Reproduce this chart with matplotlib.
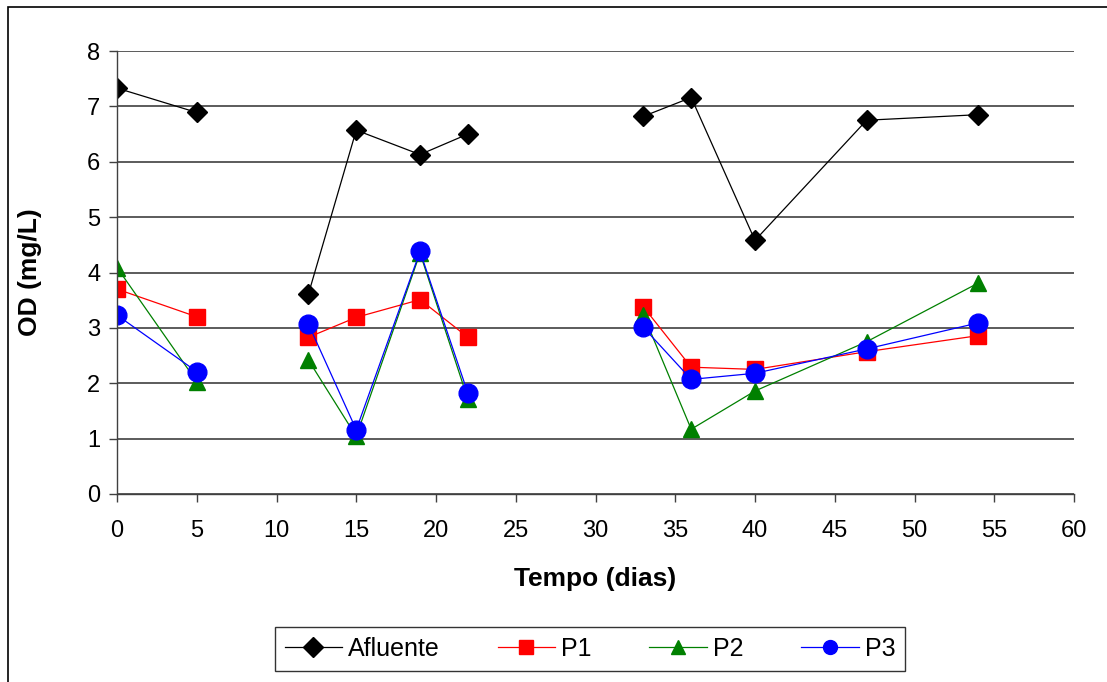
import numpy as np
import matplotlib
matplotlib.use('Agg')
import matplotlib.pyplot as plt
from matplotlib.patches import Rectangle

plt.rcParams['font.family'] = ['Liberation Sans', 'DejaVu Sans']

# dias de coleta (nan = intervalo sem coleta, quebra a linha)
dias = [0, 5, 8, 12, 15, 19, 22, 26, 33, 36, 40, 47, 54]
nan = np.nan
afluente = [7.33, 6.89, nan, 3.61, 6.57, 6.13, 6.50, nan, 6.82, 7.16, 4.58, 6.75, 6.85]
p1 = [3.70, 3.20, nan, 2.83, 3.19, 3.51, 2.83, nan, 3.38, 2.29, 2.25, 2.57, 2.86]
p2 = [4.09, 2.03, nan, 2.42, 1.04, 4.35, 1.71, nan, 3.24, 1.17, 1.86, 2.75, 3.81]
p3 = [3.23, 2.21, nan, 3.07, 1.16, 4.38, 1.82, nan, 3.01, 2.07, 2.18, 2.62, 3.09]

fig = plt.figure(figsize=(11.07, 6.82), dpi=100)
ax = fig.add_axes([117/1107, 1-494/682, (1074-117)/1107, (494-51)/682])

ax.plot(dias, afluente, color='black', lw=0.9, marker='D', ms=10.5, label='Afluente')
ax.plot(dias, p1, color='#ff0000', lw=0.9, marker='s', ms=11, label='P1')
ax.plot(dias, p2, color='#008000', lw=0.9, marker='^', ms=12, label='P2')
ax.plot(dias, p3, color='#0000ff', lw=0.9, marker='o', ms=13.5, label='P3')

ax.set_xlim(0, 60)
ax.set_ylim(0, 8)
ax.set_xticks(range(0, 61, 5))
ax.set_yticks(range(0, 9))
ax.yaxis.grid(True, color='#404040', lw=1.2)
ax.set_axisbelow(True)
for s in ['top', 'right']:
    ax.spines[s].set_visible(False)
for s in ['left', 'bottom']:
    ax.spines[s].set_color('#404040')
    ax.spines[s].set_linewidth(1.0)
ax.tick_params(direction='out', length=6, width=1, color='#404040', labelsize=17)
ax.tick_params(axis='x', pad=13)
ax.tick_params(axis='y', pad=6)
ax.set_xlabel('Tempo (dias)', fontsize=19, fontweight='bold')
ax.set_ylabel('OD (mg/L)', fontsize=19, fontweight='bold')
ax.xaxis.set_label_coords(0.5, -0.165)
ax.yaxis.set_label_coords(-0.078, 0.5)

leg = fig.legend(loc='center', bbox_to_anchor=(590/1107, 1-649/682), ncol=4,
                 fontsize=18, frameon=True, fancybox=False, edgecolor='black',
                 handlelength=2.3, columnspacing=2.3, borderpad=0.4,
                 handletextpad=0.25, borderaxespad=0)
leg.get_frame().set_linewidth(1.0)
for h in leg.legend_handles:
    h.set_markersize(10)

# borda da area do grafico
fig.patches.append(Rectangle((8/1107, -0.2), 1.2, 1.2 - 6.5/682,
                             transform=fig.transFigure, fill=False,
                             edgecolor='black', lw=1.2))

fig.savefig('out.png', dpi=100)
